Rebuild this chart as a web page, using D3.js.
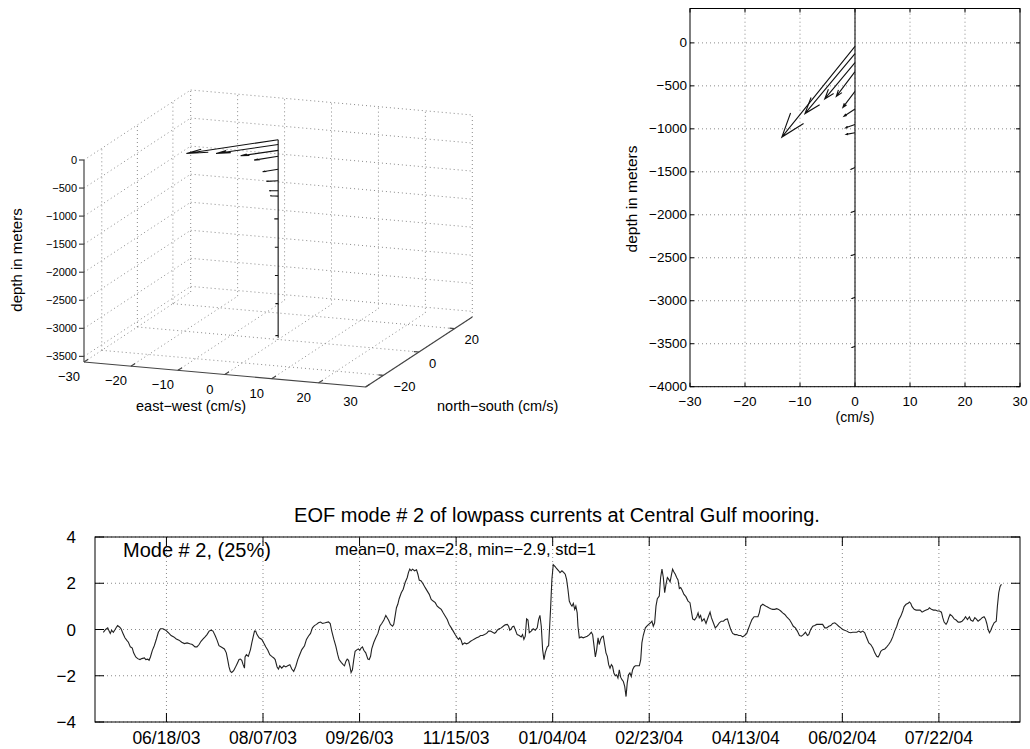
<!DOCTYPE html>
<meta charset="utf-8">
<style>
body { margin: 0; background: #fff; }
svg { font-family: "Liberation Sans", Arial, sans-serif; }
.grid { stroke: #8a8a8a; stroke-width: 1; stroke-dasharray: 1,3; fill: none; }
.ax3 { stroke: #444; stroke-width: 1.2; fill: none; }
.box { stroke: #000; stroke-width: 1; fill: none; }
.tick { stroke: #000; stroke-width: 1; }
.arrow { stroke: #111; stroke-width: 1.1; fill: none; }
</style>
<body>
<script src="https://d3js.org/d3.v7.min.js"></script>
<script>
// current profile at the mooring (cm/s), depth in m
var depth = [-40, -125, -230, -335, -565, -770, -950, -1045, -1450, -1955, -2460, -2960, -3530];
var uVel  = [-13.3, -9.1, -5.5, -3.4, -2.2, -2.0, -1.7, -1.6, -0.7, -0.6, -0.6, -0.5, -0.5];
var vVel  = [-16.5, -10.9, -6.6, -4.5, -2.9, -1.3, -0.6, -0.3, -0.3, -0.25, -0.2, -0.2, -0.2];
var vScale = 64;   // metres of depth per cm/s of v in the 2-D stick plot

var xTicks3 = [-30, -20, -10, 0, 10, 20, 30];
var yTicks3 = [-20, 0, 20];
var zTicks3 = [-3500, -3000, -2500, -2000, -1500, -1000, -500, 0];
var xTicks2 = [-30, -20, -10, 0, 10, 20, 30];
var yTicks2 = [-4000, -3500, -3000, -2500, -2000, -1500, -1000, -500, 0];

// EOF mode 2 amplitude; days since 05/12/03
var startDate = "05/12/03";
var tickDates = ["06/18/03", "08/07/03", "09/26/03", "11/15/03", "01/04/04",
                 "02/23/04", "04/13/04", "06/02/04", "07/22/04"];
var yTicksTs = [-4, -2, 0, 2, 4];

var days = [
 4.3,5.5,6.6,7.3,7.9,8.6,9.5,10.4,11.1,11.7,12.8,13.5,14.5,15.5,16.6,17.3,18.3,19.3,20.0,21.1,
 22.1,23.3,24.2,25.6,26.3,27.3,28.0,28.7,29.7,30.7,31.8,32.8,33.9,35.2,36.6,38.0,39.4,40.8,42.1,43.5,
 44.9,46.3,47.7,49.1,50.4,51.8,52.8,53.9,54.9,56.0,57.0,58.0,59.1,60.1,61.1,62.2,63.2,64.2,65.6,67.0,
 68.0,68.7,69.4,70.1,70.8,71.8,72.5,73.6,74.6,75.3,76.0,76.7,77.4,77.7,78.4,79.4,80.5,81.2,81.9,82.6,
 83.2,83.9,85.0,86.4,87.4,88.4,89.5,90.5,91.5,92.6,93.3,94.3,95.0,95.7,96.7,97.8,98.8,99.8,100.9,101.9,
 102.9,104.0,105.0,106.0,107.1,108.5,109.5,110.5,111.6,112.6,113.6,114.7,115.7,116.8,117.8,119.2,
 120.9,121.8,122.6,123.7,124.7,125.7,126.4,127.5,128.5,129.2,129.9,130.6,131.3,132.0,132.6,133.3,134.0,134.7,135.7,136.4,
 137.1,137.8,138.5,139.2,140.2,141.3,142.0,142.7,143.3,144.4,145.4,146.5,147.5,148.5,149.6,150.6,151.3,152.0,153.0,154.1,
 154.7,155.4,156.1,156.8,157.5,158.6,159.6,160.6,161.7,162.3,163.0,163.7,164.4,165.5,166.5,167.2,167.9,168.9,170.0,171.0,
 172.0,173.1,174.1,175.1,176.2,177.2,178.2,179.3,180.3,181.3,182.4,183.4,184.5,185.5,186.5,187.6,188.3,188.9,189.6,190.3,
 191.4,192.4,193.4,194.5,195.5,196.5,197.6,198.6,199.7,200.7,201.7,202.8,203.8,204.8,205.9,206.9,207.6,208.3,209.3,210.4,
 211.4,212.4,213.5,214.2,214.8,215.5,216.2,216.9,217.6,218.6,219.7,220.7,221.4,222.1,222.8,223.5,224.2,224.9,225.9,226.9,
 228.0,229.0,229.7,230.4,231.1,231.8,232.5,233.2,234.2,234.9,235.9,236.6,237.3,238.3,239.0,240.1,
 240.8,241.8,242.8,243.5,244.2,244.9,245.6,246.3,247.0,247.7,248.4,249.0,249.7,250.1,250.8,251.8,252.8,253.9,254.9,256.0,
 257.0,257.7,258.4,259.1,259.8,260.5,261.1,261.8,262.5,263.2,263.9,264.6,265.3,266.0,266.7,267.4,268.0,268.7,269.4,270.1,
 270.8,271.5,272.2,272.9,273.6,274.3,275.0,275.6,276.3,277.0,277.7,278.4,279.1,279.8,280.8,281.9,282.6,283.2,283.9,285.0,
 286.0,286.7,287.7,288.4,289.1,289.8,290.5,291.2,292.2,292.9,293.6,294.3,295.0,295.7,296.4,297.1,297.8,298.4,299.1,299.8,
 300.5,301.2,301.9,302.6,303.3,304.0,305.0,306.0,307.1,308.1,308.8,309.5,310.5,311.6,312.3,312.9,313.6,314.3,315.4,316.4,
 317.4,318.5,319.2,320.2,321.2,322.3,323.3,324.3,325.4,326.4,327.5,328.1,329.2,330.2,331.3,332.3,333.3,334.4,335.4,336.4,
 337.5,338.2,339.2,340.2,341.3,342.3,343.3,344.0,344.7,345.8,346.8,347.8,348.9,349.9,350.9,352.0,353.0,354.0,355.1,356.1,
 357.2,358.2,359.2,
 359.6,360.6,361.6,362.7,363.7,364.8,365.8,366.8,367.9,368.9,369.6,370.6,371.7,372.7,373.7,374.8,375.8,376.8,377.9,378.9,
 380.0,381.0,382.0,383.1,384.1,385.1,386.2,387.2,388.2,389.3,390.3,391.4,392.4,393.4,394.5,395.5,396.5,397.6,398.6,399.6,
 400.7,401.7,402.8,403.8,404.8,405.5,406.2,406.9,407.9,409.0,410.0,411.0,412.1,413.1,414.1,415.2,416.2,417.3,418.3,419.0,
 420.0,421.1,421.7,422.4,423.1,424.2,425.2,426.2,427.3,428.3,429.3,430.4,431.4,432.1,433.1,434.2,435.2,436.3,437.3,438.3,
 439.0,439.7,440.7,441.4,442.1,442.8,443.9,444.9,445.9,447.0,448.0,449.0,450.1,450.8,451.8,452.8,453.5,454.6,455.6,456.3,
 457.3,458.4,459.4,460.4,461.1,461.8,462.5,463.2,463.9,464.6,465.6,466.7,467.3,468.0,468.7,469.4
];
var mode2 = [
 -0.12,0,0.07,-0.07,-0.17,-0.03,-0.12,0,0.1,0.17,0.1,0.03,-0.17,-0.36,-0.48,-0.55,-0.75,-0.8,-1.01,-1.19,
 -1.26,-1.3,-1.26,-1.23,-1.3,-1.28,-1.33,-1.19,-0.9,-0.7,-0.41,-0.12,0.03,0.03,-0.03,-0.14,-0.26,-0.32,-0.41,-0.46,
 -0.55,-0.61,-0.58,-0.62,-0.65,-0.75,-0.75,-0.65,-0.51,-0.41,-0.32,-0.22,-0.07,-0.03,-0.07,-0.26,-0.46,-0.7,-0.77,-0.84,
 -1.01,-1.3,-1.62,-1.81,-1.86,-1.78,-1.67,-1.48,-1.3,-1.28,-1.33,-1.52,-1.67,-1.19,-1.09,-1.16,-0.87,-0.58,-0.32,-0.07,
 -0.07,-0.22,-0.36,-0.43,-0.58,-0.75,-0.9,-1.09,-1.16,-1.23,-1.3,-1.62,-1.71,-1.57,-1.67,-1.57,-1.62,-1.57,-1.52,-1.71,
 -1.81,-1.59,-1.3,-1.09,-0.87,-0.7,-0.43,-0.29,-0.17,0.07,0.17,0.22,0.29,0.32,0.26,0.29,
 0.33,0.26,-0.07,-0.43,-0.72,-1.09,-1.3,-1.42,-1.52,-1.57,-1.38,-1.28,-1.33,-1.59,-1.86,-1.74,-1.3,-0.94,-0.87,-0.84,
 -0.9,-0.8,-0.75,-0.9,-1.01,-1.28,-1.3,-1.16,-0.84,-0.55,-0.36,-0.17,0.14,0.26,0.41,0.61,0.51,0.41,0.22,0.14,
 0.22,0.58,0.94,1.09,1.33,1.59,1.74,2.03,2.25,2.46,2.61,2.54,2.61,2.54,2.58,2.39,2.14,2.1,1.96,1.81,
 1.67,1.52,1.3,1.23,1.16,1.01,0.94,0.87,0.72,0.58,0.43,0.22,0.07,-0.07,-0.22,-0.36,-0.43,-0.36,-0.46,-0.65,
 -0.58,-0.62,-0.58,-0.51,-0.46,-0.41,-0.36,-0.32,-0.26,-0.26,-0.22,-0.17,-0.07,-0.07,-0.12,-0.17,-0.12,-0.03,0.03,0.07,
 0.14,0.2,0.22,0.14,-0.03,0.03,0.12,0.14,0,-0.22,-0.26,-0.32,-0.22,-0.43,-0.29,0.46,0.41,-0.14,-0.07,0.03,
 -0.03,0.07,0.43,0.61,0.14,-0.87,-1.3,-0.99,-0.75,-0.7,0.87,2.17,2.8,2.72,2.64,2.54,
 2.46,2.54,2.46,2.39,2.17,1.74,1.23,1.09,1.01,1.13,0.87,1.01,0.72,0.14,-0.36,-0.32,-0.36,-0.32,-0.29,-0.22,
 -0.12,-0.22,-0.7,-1.19,-0.87,-0.36,-0.65,-0.43,-0.32,-0.29,-0.65,-1.01,-1.16,-1.52,-1.67,-1.52,-1.59,-1.88,-2.0,-1.96,
 -2.1,-1.74,-2.06,-2.17,-2.25,-2.46,-2.9,-2.32,-1.96,-1.88,-2.03,-1.74,-1.62,-1.57,-1.57,-1.57,-1.3,-0.58,-0.26,0.07,
 0.17,0.22,0.29,0.36,0.14,0.29,1.01,1.33,1.45,2.25,2.61,2.25,1.59,1.96,2.25,2.17,2.06,2.32,2.61,2.49,
 2.39,2.25,2.14,1.77,1.81,1.71,1.52,1.42,1.23,1.16,0.8,0.46,0.41,0.55,0.72,0.51,0.61,0.36,0.46,0.26,
 0.51,0.75,0.51,0.29,0.07,0.17,0.29,0.36,0.36,0.43,0.46,0.29,0,-0.17,-0.22,-0.22,-0.26,-0.26,-0.32,-0.26,
 -0.17,0,0.22,0.43,0.55,0.55,0.55,0.72,1.01,1.09,1.04,0.99,0.94,0.9,0.87,0.87,0.9,0.87,0.8,0.72,
 0.65,0.55,0.46,
 0.43,0.29,0.14,0.07,-0.07,-0.26,-0.29,-0.22,-0.12,-0.26,-0.22,0,0.14,0.17,0.22,0.22,0.22,0.22,0.07,0.07,
 0.14,0.17,0.26,0.29,0.22,0.14,0.07,0,-0.03,-0.07,-0.12,-0.14,-0.12,-0.12,-0.12,-0.07,-0.12,-0.07,-0.14,-0.36,
 -0.58,-0.65,-0.8,-1.01,-1.16,-1.19,-1.09,-0.94,-0.87,-0.84,-0.75,-0.65,-0.51,-0.32,-0.07,0.14,0.41,0.58,0.8,0.99,
 1.09,1.13,1.19,1.13,0.99,0.87,0.84,0.84,0.84,0.75,0.8,0.84,0.87,0.94,0.87,0.84,0.84,0.8,0.8,0.75,
 0.51,0.32,0.22,0.32,0.51,0.65,0.58,0.46,0.41,0.32,0.32,0.36,0.46,0.55,0.43,0.55,0.41,0.36,0.51,0.46,
 0.36,0.43,0.51,0.55,0.46,0.26,0,-0.14,-0.03,0.12,0.29,0.36,1.01,1.59,1.86,1.96
];

var svg = d3.select("body").append("svg")
    .attr("width", 1030)
    .attr("height", 749);

function seg(g, a, b, cls) {
  g.append("line")
      .attr("class", cls)
      .attr("x1", a[0]).attr("y1", a[1])
      .attr("x2", b[0]).attr("y2", b[1]);
}

// ================= 3-D quiver (left) =================
var p0 = [84, 362], ex = [281.6, 25], ey = [106.7, -70], ez = [0, -202];
var sx3 = d3.scaleLinear().domain([-30, 30]).range([0, 1]),
    sy3 = d3.scaleLinear().domain([-30, 30]).range([0, 1]),
    sz3 = d3.scaleLinear().domain([-3600, 0]).range([0, 1]);

function proj(x, y, z) {
  var a = sx3(x), b = sy3(y), c = sz3(z);
  return [p0[0] + ex[0] * a + ey[0] * b + ez[0] * c,
          p0[1] + ex[1] * a + ey[1] * b + ez[1] * c];
}
var zMin = -3600, zMax = 0;
var g3 = svg.append("g");

// back walls and floor
xTicks3.forEach(function(x) {
  seg(g3, proj(x, -30, zMin), proj(x, 30, zMin), "grid");
  seg(g3, proj(x, 30, zMin), proj(x, 30, zMax), "grid");
});
yTicks3.forEach(function(y) {
  seg(g3, proj(-30, y, zMin), proj(30, y, zMin), "grid");
  seg(g3, proj(-30, y, zMin), proj(-30, y, zMax), "grid");
});
zTicks3.forEach(function(z) {
  seg(g3, proj(-30, -30, z), proj(-30, 30, z), "grid");
  seg(g3, proj(-30, 30, z), proj(30, 30, z), "grid");
});

// axes
seg(g3, proj(-30, -30, zMin), proj(30, -30, zMin), "ax3");
seg(g3, proj(30, -30, zMin), proj(30, 30, zMin), "ax3");
seg(g3, proj(-30, -30, zMin), proj(-30, -30, zMax), "ax3");

var fmt = d3.format("d");
xTicks3.forEach(function(x) {
  var p = proj(x, -30, zMin);
  seg(g3, p, [p[0] + 4.2, p[1] - 2.7], "ax3");
  g3.append("text").attr("x", p[0] - 15).attr("y", p[1] + 19)
      .attr("text-anchor", "middle").style("font-size", "13px").text(fmt(x));
});
yTicks3.forEach(function(y) {
  var p = proj(30, y, zMin);
  seg(g3, p, [p[0] - 5, p[1] - 0.45], "ax3");
  g3.append("text").attr("x", p[0] + 10).attr("y", p[1] + 15.5)
      .attr("text-anchor", "start").style("font-size", "13px").text(fmt(y));
});
zTicks3.forEach(function(z) {
  var p = proj(-30, -30, z);
  seg(g3, p, [p[0] - 5, p[1]], "ax3");
  g3.append("text").attr("x", p[0] - 7).attr("y", p[1]).attr("dy", "0.35em")
      .attr("text-anchor", "end").style("font-size", "11px").text(fmt(z));
});

g3.append("text").attr("x", 191).attr("y", 411)
    .attr("text-anchor", "middle").style("font-size", "14.5px").text("east\u2212west (cm/s)");
g3.append("text").attr("x", 437).attr("y", 411)
    .attr("text-anchor", "start").style("font-size", "14.5px").text("north\u2212south (cm/s)");
g3.append("text").attr("transform", "translate(22,260) rotate(-90)")
    .attr("text-anchor", "middle").style("font-size", "15px").text("depth in meters");

// mooring line + arrows
seg(g3, proj(0, 0, d3.max(depth)), proj(0, 0, d3.min(depth) - 40), "arrow");
var alpha = 0.2, beta = 0.33;
depth.forEach(function(z, i) {
  var u = uVel[i], v = vVel[i];
  var tail = proj(0, 0, z), head = proj(u, v, z);
  var b1 = proj(u - alpha * (u + beta * v), v - alpha * (v - beta * u), z);
  var b2 = proj(u - alpha * (u - beta * v), v - alpha * (v + beta * u), z);
  g3.append("path").attr("class", "arrow")
      .attr("d", d3.line()([tail, head]) + d3.line()([b1, head, b2]));
});

// ================= 2-D stick plot (right) =================
var xs = d3.scaleLinear().domain([-30, 30]).range([690, 1020]);
var ys = d3.scaleLinear().domain([-4000, 400]).range([386.7, 8.5]);
var g2 = svg.append("g");

xTicks2.slice(1, -1).forEach(function(t) {
  seg(g2, [xs(t), ys.range()[0]], [xs(t), ys.range()[1]], "grid");
});
yTicks2.forEach(function(t) {
  seg(g2, [690, ys(t)], [1020, ys(t)], "grid");
});
g2.append("rect").attr("class", "box")
    .attr("x", 690).attr("y", ys.range()[1])
    .attr("width", 330).attr("height", ys.range()[0] - ys.range()[1]);

xTicks2.forEach(function(t) {
  seg(g2, [xs(t), 386.7], [xs(t), 382.7], "tick");
  seg(g2, [xs(t), 8.5], [xs(t), 12.5], "tick");
  g2.append("text").attr("x", xs(t)).attr("y", 406)
      .attr("text-anchor", "middle").style("font-size", "13.5px").text(fmt(t));
});
yTicks2.forEach(function(t) {
  seg(g2, [690, ys(t)], [694, ys(t)], "tick");
  seg(g2, [1020, ys(t)], [1016, ys(t)], "tick");
  g2.append("text").attr("x", 687).attr("y", ys(t)).attr("dy", "0.32em")
      .attr("text-anchor", "end").style("font-size", "13.5px").text(fmt(t));
});
g2.append("text").attr("x", 855).attr("y", 421.5)
    .attr("text-anchor", "middle").style("font-size", "14px").text("(cm/s)");
g2.append("text").attr("transform", "translate(637,199) rotate(-90)")
    .attr("text-anchor", "middle").style("font-size", "15.5px").text("depth in meters");

seg(g2, [xs(0), ys.range()[0]], [xs(0), ys.range()[1]], "arrow");
var headAng = 19 * Math.PI / 180;
depth.forEach(function(z, i) {
  var x1 = xs(0), y1 = ys(z), x2 = xs(uVel[i]), y2 = ys(z + vVel[i] * vScale);
  var L = Math.hypot(x2 - x1, y2 - y1), a = Math.atan2(y1 - y2, x1 - x2), h = 0.22 * L;
  var b1 = [x2 + h * Math.cos(a + headAng), y2 + h * Math.sin(a + headAng)];
  var b2 = [x2 + h * Math.cos(a - headAng), y2 + h * Math.sin(a - headAng)];
  g2.append("path").attr("class", "arrow")
      .attr("d", d3.line()([[x1, y1], [x2, y2]]) + d3.line()([b1, [x2, y2], b2]));
});

// ================= EOF time series (bottom) =================
var parseDate = d3.timeParse("%m/%d/%y");
var t0 = parseDate(startDate);
var xt = d3.scaleTime().domain([t0, new Date(2004, 8, 2)]).range([95, 1020]);
var yt = d3.scaleLinear().domain([-4, 4]).range([722, 537]);
var gt = svg.append("g");

tickDates.forEach(function(s) {
  var x = xt(parseDate(s));
  seg(gt, [x, 537], [x, 722], "grid");
  seg(gt, [x, 722], [x, 713], "tick");
  seg(gt, [x, 537], [x, 546], "tick");
  gt.append("text").attr("x", x).attr("y", 744)
      .attr("text-anchor", "middle").style("font-size", "17.5px").text(s);
});
yTicksTs.forEach(function(t) {
  seg(gt, [95, yt(t)], [1020, yt(t)], "grid");
  seg(gt, [95, yt(t)], [104, yt(t)], "tick");
  seg(gt, [1020, yt(t)], [1011, yt(t)], "tick");
  gt.append("text").attr("x", 76).attr("y", yt(t)).attr("dy", "0.36em")
      .attr("text-anchor", "end").style("font-size", "17px").text(fmt(t));
});
gt.append("rect").attr("class", "box")
    .attr("x", 95).attr("y", 537).attr("width", 925).attr("height", 185);

var pts = days.map(function(d, i) {
  return [xt(new Date(+t0 + d * 864e5)), yt(mode2[i])];
});
gt.append("path")
    .attr("d", d3.line()(pts))
    .attr("fill", "none")
    .attr("stroke", "#222")
    .attr("stroke-width", 1.1);

gt.append("text").attr("x", 557).attr("y", 522)
    .attr("text-anchor", "middle").style("font-size", "20px")
    .text("EOF mode # 2 of lowpass currents at Central Gulf mooring.");
gt.append("text").attr("x", 123).attr("y", 557)
    .style("font-size", "20px").text("Mode # 2, (25%)");
gt.append("text").attr("x", 335).attr("y", 555)
    .style("font-size", "16.5px").text("mean=0, max=2.8, min=\u22122.9, std=1");
</script>
